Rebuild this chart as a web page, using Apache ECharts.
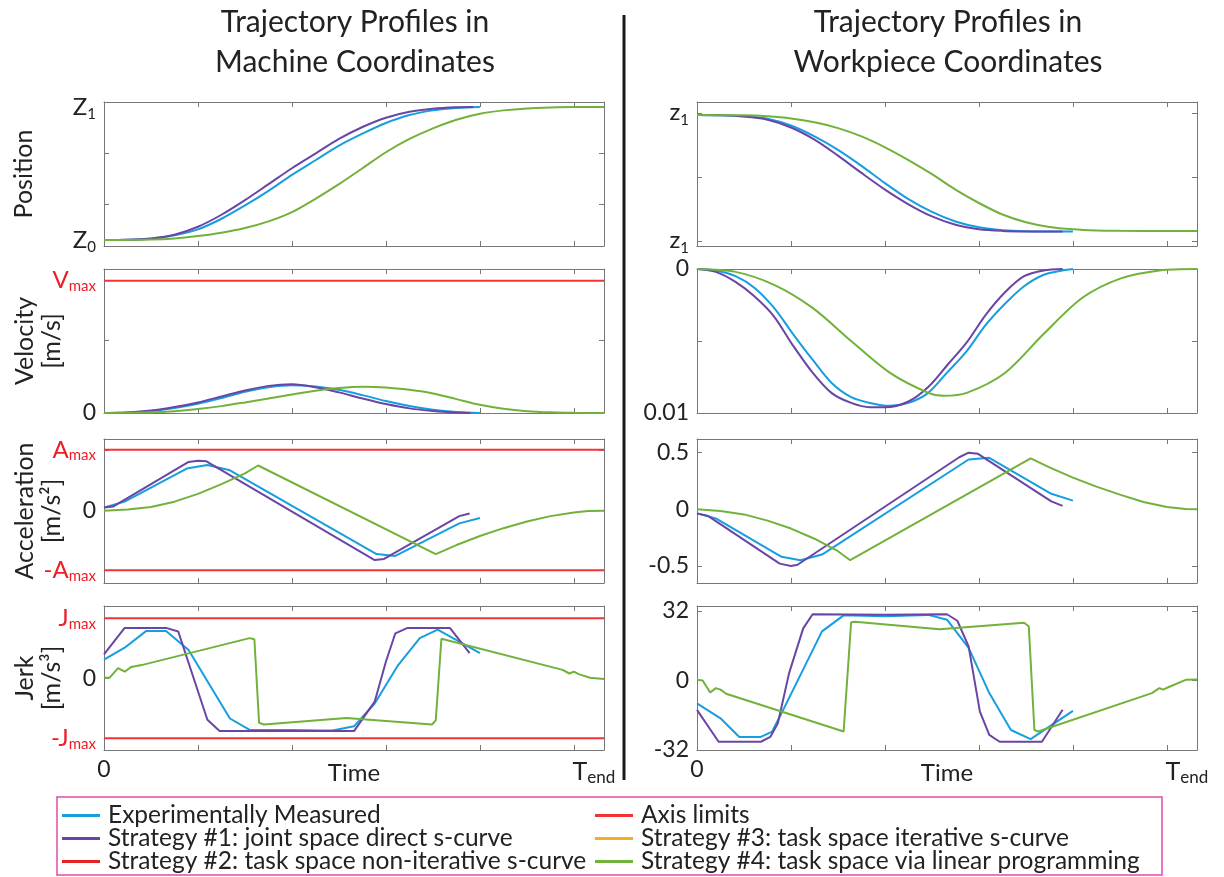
<!DOCTYPE html>
<html>
<head>
<meta charset="utf-8">
<script src="https://cdn.jsdelivr.net/npm/echarts@6/dist/echarts.min.js"></script>
<style>
  html, body { margin: 0; padding: 0; background: #fff; }
  #chart { width: 1224px; height: 877px; }
</style>
</head>
<body>
<div id="chart"></div>
<script>
// ---- time axis (one unit per tick, T_end at the 5th tick) ----
const T_MAX = 5.32;
const T_TICKS = [0, 1, 2, 3, 4, 5];
const T_LABEL_VALUES = [0, 5];

// ---- machine coordinates: position (Z0 = 0, Z1 = 1) ----
const machPosMeasured = [[0,0],[0.25,0.002],[0.5,0.01],[0.75,0.035],[1.0,0.08],[1.25,0.16],[1.5,0.26],[1.75,0.37],[2.0,0.49],[2.25,0.60],[2.5,0.71],[2.75,0.80],[3.0,0.88],[3.25,0.94],[3.5,0.975],[3.75,0.993],[4.0,1.0]];
const machPosS1 = [[0,0],[0.25,0.002],[0.5,0.012],[0.75,0.04],[1.0,0.10],[1.25,0.19],[1.5,0.30],[1.75,0.42],[2.0,0.54],[2.25,0.65],[2.5,0.76],[2.75,0.85],[3.0,0.92],[3.25,0.965],[3.5,0.988],[3.75,0.998],[3.93,1.0]];
const machPosS4 = [[0,0],[0.5,0.004],[0.75,0.012],[1.0,0.03],[1.25,0.055],[1.5,0.09],[1.75,0.14],[2.0,0.21],[2.25,0.31],[2.5,0.42],[2.75,0.54],[3.0,0.66],[3.25,0.76],[3.5,0.84],[3.75,0.905],[4.0,0.95],[4.25,0.975],[4.5,0.99],[4.75,0.997],[5.0,1.0],[5.32,1.0]];

// ---- machine coordinates: velocity (Vmax = 1) ----
const machVelMeasured = [[0,0],[0.25,0.003],[0.5,0.015],[0.75,0.038],[1.0,0.07],[1.25,0.113],[1.5,0.16],[1.75,0.195],[2.0,0.21],[2.25,0.2],[2.5,0.175],[2.75,0.135],[3.0,0.09],[3.25,0.053],[3.5,0.025],[3.75,0.008],[4.0,0]];
const machVelS1 = [[0,0],[0.25,0.004],[0.5,0.018],[0.75,0.045],[1.0,0.08],[1.25,0.125],[1.5,0.17],[1.75,0.205],[2.0,0.217],[2.25,0.195],[2.5,0.156],[2.75,0.11],[3.0,0.068],[3.25,0.035],[3.5,0.015],[3.75,0.003],[3.9,0]];
const machVelS4 = [[0,0],[0.5,0.005],[0.75,0.014],[1.0,0.03],[1.25,0.052],[1.5,0.08],[1.75,0.11],[2.0,0.14],[2.25,0.168],[2.5,0.188],[2.75,0.198],[3.0,0.193],[3.25,0.175],[3.5,0.148],[3.75,0.105],[4.0,0.062],[4.25,0.032],[4.5,0.014],[4.75,0.005],[5.0,0.001],[5.32,0]];

// ---- machine coordinates: acceleration (Amax = 1) ----
const machAccMeasured = [[0,0.044],[0.22,0.14],[0.88,0.69],[1.1,0.75],[1.34,0.66],[2.9,-0.73],[3.1,-0.76],[3.78,-0.22],[4.0,-0.13]];
const machAccS1 = [[0,0.044],[0.1,0.06],[0.9,0.80],[1.0,0.82],[1.09,0.81],[2.88,-0.83],[2.98,-0.81],[3.78,-0.1],[3.89,-0.056]];
const machAccS4 = [[0,-0.01],[0.25,0.01],[0.5,0.05],[0.75,0.14],[1.0,0.27],[1.25,0.43],[1.5,0.61],[1.64,0.74],[3.53,-0.73],[3.75,-0.58],[4.0,-0.43],[4.25,-0.3],[4.5,-0.19],[4.75,-0.1],[5.0,-0.04],[5.15,-0.015],[5.32,-0.01]];

// ---- machine coordinates: jerk (Jmax = 1) ----
const machJerkMeasured = [[0,0.31],[0.22,0.51],[0.45,0.79],[0.66,0.79],[0.9,0.47],[1.34,-0.67],[1.55,-0.86],[2.0,-0.86],[2.3,-0.87],[2.43,-0.87],[2.66,-0.8],[2.88,-0.42],[3.13,0.22],[3.36,0.67],[3.55,0.81],[4.0,0.42]];
const machJerkS1 = [[0,0.40],[0.22,0.84],[0.66,0.84],[0.79,0.78],[1.1,-0.69],[1.23,-0.88],[2.0,-0.88],[2.66,-0.88],[2.88,-0.39],[3.0,0.28],[3.1,0.75],[3.23,0.84],[3.68,0.84],[3.89,0.42]];
const machJerkS4 = [[0,0.01],[0.06,0.01],[0.15,0.17],[0.22,0.11],[0.29,0.19],[0.4,0.22],[1.55,0.67],[1.6,0.65],[1.65,-0.74],[1.7,-0.77],[2.58,-0.66],[3.49,-0.77],[3.53,-0.7],[3.59,0.66],[4.88,0.14],[4.95,0.08],[5.0,0.11],[5.05,0.07],[5.17,0.01],[5.32,-0.01]];

// ---- workpiece coordinates: position (normalised between the two z1 marks) ----
const workPosMeasured = [[0,0.982],[0.25,0.981],[0.5,0.973],[0.75,0.953],[1.0,0.90],[1.25,0.815],[1.5,0.71],[1.75,0.585],[2.0,0.45],[2.25,0.325],[2.5,0.225],[2.75,0.15],[3.0,0.105],[3.25,0.083],[3.5,0.075],[4.0,0.072]];
const workPosS1 = [[0,0.982],[0.25,0.98],[0.5,0.97],[0.75,0.945],[1.0,0.885],[1.25,0.79],[1.5,0.665],[1.75,0.53],[2.0,0.40],[2.25,0.285],[2.5,0.19],[2.75,0.125],[3.0,0.09],[3.25,0.077],[3.5,0.073],[3.89,0.072]];
const workPosS4 = [[0,0.982],[0.5,0.98],[0.75,0.972],[1.0,0.955],[1.25,0.925],[1.5,0.88],[1.75,0.815],[2.0,0.73],[2.25,0.63],[2.5,0.52],[2.75,0.40],[3.0,0.295],[3.25,0.205],[3.5,0.145],[3.75,0.108],[4.0,0.09],[4.25,0.081],[4.5,0.078],[5.0,0.076],[5.32,0.076]];

// ---- workpiece coordinates: velocity magnitude ----
const workVelMeasured = [[0,0],[0.2,0.0001],[0.41,0.0005],[0.61,0.0013],[0.82,0.0027],[1.02,0.0045],[1.23,0.0063],[1.43,0.0079],[1.64,0.0089],[1.84,0.0093],[2.05,0.0095],[2.25,0.0093],[2.46,0.0086],[2.66,0.0072],[2.87,0.0057],[3.07,0.0039],[3.28,0.0024],[3.48,0.0012],[3.69,0.0004],[3.89,0.0001],[4.0,0]];
const workVelS1 = [[0,0],[0.2,0.0002],[0.41,0.0009],[0.61,0.0019],[0.82,0.0033],[1.02,0.0053],[1.23,0.0072],[1.43,0.0086],[1.64,0.0093],[1.84,0.0096],[2.0,0.0096],[2.25,0.0092],[2.46,0.0082],[2.66,0.0067],[2.87,0.0051],[3.07,0.0032],[3.28,0.0016],[3.48,0.0005],[3.69,0.0001],[3.89,0]];
const workVelS4 = [[0,0],[0.41,0.0002],[0.82,0.0011],[1.23,0.0027],[1.64,0.005],[2.05,0.0072],[2.46,0.0086],[2.62,0.0088],[2.87,0.0086],[3.28,0.0072],[3.69,0.0045],[4.1,0.002],[4.51,0.00065],[4.92,0.0001],[5.32,0]];

// ---- workpiece coordinates: acceleration ----
const workAccMeasured = [[0,-0.036],[0.2,-0.08],[0.9,-0.42],[1.1,-0.45],[1.33,-0.4],[2.89,0.44],[3.11,0.455],[3.77,0.137],[4.0,0.077]];
const workAccS1 = [[0,-0.036],[0.12,-0.06],[0.88,-0.48],[1.0,-0.5],[1.07,-0.49],[2.79,0.46],[2.89,0.5],[2.99,0.49],[3.77,0.07],[3.89,0.03]];
const workAccS4 = [[0,0],[0.25,-0.015],[0.5,-0.045],[0.75,-0.1],[1.0,-0.17],[1.25,-0.26],[1.5,-0.37],[1.63,-0.45],[3.55,0.45],[3.75,0.37],[4.0,0.28],[4.25,0.2],[4.5,0.13],[4.75,0.065],[5.0,0.02],[5.2,0.003],[5.32,0]];

// ---- workpiece coordinates: jerk ----
const workJerkMeasured = [[0,-10.5],[0.25,-17.4],[0.45,-26],[0.68,-26],[0.8,-23.5],[0.9,-15],[1.33,22.6],[1.56,30],[2.0,29.6],[2.46,30.2],[2.66,28],[2.89,15],[3.11,-5.8],[3.34,-22.8],[3.55,-27],[4.0,-14]];
const workJerkS1 = [[0,-13.5],[0.23,-28.2],[0.68,-28.2],[0.78,-26],[0.86,-19.7],[0.98,3.4],[1.13,24],[1.23,30.5],[2.0,30.3],[2.66,30.5],[2.77,27.5],[2.89,15.7],[3.01,-14.3],[3.11,-25],[3.22,-28.2],[3.67,-28.2],[3.89,-13.5]];
const workJerkS4 = [[0,0.3],[0.06,0],[0.14,-5.5],[0.2,-3.5],[0.25,-4.2],[0.31,-6.1],[1.56,-23.5],[1.64,26.8],[1.68,27],[2.58,23.6],[3.48,26.6],[3.53,25],[3.59,-22.8],[3.63,-23.5],[4.84,-5.8],[4.92,-3.5],[4.96,-4.2],[5.02,-3],[5.2,0.3],[5.32,0.5]];

// ---- axis limits (normalised) ----
const V_MAX = 1, A_MAX = 1, J_MAX = 1;

// ---- y axis ticks and labelled values ----
const machPosTicks = [0.268, 0.656], machPosLabels = [0, 1];
const machVelTicks = [0.546], machVelLabels = [0, V_MAX];
const machAccTicks = [-A_MAX, 0, A_MAX], machAccLabels = [-A_MAX, 0, A_MAX];
const machJerkTicks = [-J_MAX, 0, J_MAX], machJerkLabels = [-J_MAX, 0, J_MAX];
const workPosTicks = [0, 0.5, 1], workPosLabels = [0, 1];
const workVelTicks = [0, 0.005, 0.01], workVelLabels = [0, 0.01];
const workAccTicks = [-0.5, 0, 0.5], workAccLabels = [-0.5, 0, 0.5];
const workJerkTicks = [-32, 0, 32], workJerkLabels = [-32, 0, 32];

// ---- legend ----
const NAME_MEAS = 'Experimentally Measured';
const NAME_S1 = 'Strategy #1: joint space direct s-curve';
const NAME_S2 = 'Strategy #2: task space non-iterative s-curve';
const NAME_S3 = 'Strategy #3: task space iterative s-curve';
const NAME_S4 = 'Strategy #4: task space via linear programming';
const NAME_LIM = 'Axis limits';

// ---- styling ----
const FONT = 'Lato, "Open Sans", sans-serif';
const TXT = '#222222';
const RED_TXT = '#ee1c24';
const FRAME = '#777777';
const C_MEAS = '#169ee0';
const C_S1 = '#6a45a5';
const C_S2 = '#e8231f';
const C_S3 = '#eeb021';
const C_S4 = '#72b13a';
const C_LIM = '#f43434';

const LEFT_X = 104, RIGHT_X = 697, GRID_W = 500, GRID_H = 144;
const ROW_TOPS = [102, 269, 439, 606];

const RICH = {
  m: { fontSize: 24, color: TXT, lineHeight: 30, fontFamily: FONT },
  s: { fontSize: 15, color: TXT, verticalAlign: 'bottom', fontFamily: FONT },
  n: { fontSize: 23, color: TXT, fontFamily: FONT },
  rm: { fontSize: 24, color: RED_TXT, lineHeight: 26, fontFamily: FONT },
  rs: { fontSize: 15, color: RED_TXT, verticalAlign: 'bottom', fontFamily: FONT },
  p: { width: 40, fontSize: 23, fontFamily: FONT },
  t: { fontSize: 25, color: TXT, lineHeight: 28, fontFamily: FONT },
  e: { fontSize: 17, color: TXT, verticalAlign: 'bottom', fontFamily: FONT }
};

const numFmt = v => '{n|' + String(v) + '}';
const limFmt = letter => v => v === 0 ? '{n|0}' : (v > 0 ? '{rm|' + letter + '}{rs|max}' : '{rm|-' + letter + '}{rs|max}');

// one entry per panel: column 0 = machine, column 1 = workpiece
const PANELS = [
  { col: 0, row: 0, min: -0.045, max: 1.038, ticks: machPosTicks, labels: machPosLabels,
    fmt: v => v === 0 ? '{m|Z}{s|0}' : '{m|Z}{s|1}', name: 'Position', gap: 67 },
  { col: 0, row: 1, min: 0, max: 1.088, ticks: machVelTicks, labels: machVelLabels,
    fmt: limFmt('V'), name: 'Velocity\n[m/s]', gap: 39 },
  { col: 0, row: 2, min: -1.21, max: 1.18, ticks: machAccTicks, labels: machAccLabels,
    fmt: limFmt('A'), name: 'Acceleration\n[m/s²]', gap: 39 },
  { col: 0, row: 3, min: -1.195, max: 1.205, ticks: machJerkTicks, labels: machJerkLabels,
    fmt: limFmt('J'), name: 'Jerk\n[m/s³]', gap: 39 },
  { col: 1, row: 0, min: -0.041, max: 1.084, ticks: workPosTicks, labels: workPosLabels,
    fmt: () => '{m|z}{s|1}' },
  { col: 1, row: 1, min: 0, max: 0.01, inverse: true, ticks: workVelTicks, labels: workVelLabels, fmt: numFmt },
  { col: 1, row: 2, min: -0.651, max: 0.621, ticks: workAccTicks, labels: workAccLabels, fmt: numFmt },
  { col: 1, row: 3, min: -32, max: 34.3, ticks: workJerkTicks, labels: workJerkLabels, fmt: numFmt }
];

const grid = [], xAxis = [], yAxis = [];
PANELS.forEach((p, i) => {
  grid.push({ left: p.col === 0 ? LEFT_X : RIGHT_X, top: ROW_TOPS[p.row], width: GRID_W, height: GRID_H });
  const frameLine = { show: true, onZero: false, lineStyle: { color: FRAME, width: 1 } };
  const bottomRow = p.row === 3;
  // bottom time axis
  xAxis.push({
    type: 'value', gridIndex: i, min: 0, max: T_MAX, position: 'bottom',
    axisLine: frameLine, splitLine: { show: false },
    axisTick: { inside: true, length: 5, customValues: T_TICKS, lineStyle: { color: FRAME } },
    axisLabel: {
      show: bottomRow, customValues: T_LABEL_VALUES, margin: 8, rich: RICH,
      formatter: v => v === 0 ? '{n|0}' : (v === 5 ? '{p| }{t|T}{e|end}' : '')
    },
    name: bottomRow ? 'Time' : '', nameLocation: 'middle', nameGap: 11, nameMoveOverlap: false,
    nameTextStyle: { fontSize: 24, color: TXT, fontFamily: FONT }
  });
  // mirrored time axis along the top edge
  xAxis.push({
    type: 'value', gridIndex: i, min: 0, max: T_MAX, position: 'top',
    axisLine: frameLine, splitLine: { show: false },
    axisTick: { inside: true, length: 5, customValues: T_TICKS, lineStyle: { color: FRAME } },
    axisLabel: { show: false }
  });
  // left value axis
  yAxis.push({
    type: 'value', gridIndex: i, min: p.min, max: p.max, inverse: !!p.inverse, position: 'left',
    axisLine: frameLine, splitLine: { show: false },
    axisTick: { inside: true, length: 5, customValues: p.ticks, lineStyle: { color: FRAME } },
    axisLabel: { customValues: p.labels, margin: 8, rich: RICH, formatter: p.fmt },
    name: p.name || '', nameLocation: 'middle', nameGap: p.gap || 0, nameRotate: 90, nameMoveOverlap: false,
    nameTextStyle: { fontSize: 25, lineHeight: 27, color: TXT, fontFamily: FONT }
  });
  // mirrored value axis along the right edge
  yAxis.push({
    type: 'value', gridIndex: i, min: p.min, max: p.max, inverse: !!p.inverse, position: 'right',
    axisLine: frameLine, splitLine: { show: false },
    axisTick: { inside: true, length: 5, customValues: p.ticks, lineStyle: { color: FRAME } },
    axisLabel: { show: false }
  });
});

const series = [];
function addLine(name, panel, data, color, smooth) {
  series.push({
    type: 'line', name, xAxisIndex: 2 * panel, yAxisIndex: 2 * panel, data,
    symbol: 'none', showSymbol: false, smooth: smooth ? 0.3 : false,
    lineStyle: { color, width: 2 }, itemStyle: { color }, silent: true
  });
}
function hLine(panel, level) {
  addLine(NAME_LIM, panel, [[0, level], [T_MAX, level]], C_LIM, false);
}

// axis limit lines (machine coordinates)
hLine(1, V_MAX);
hLine(2, A_MAX); hLine(2, -A_MAX);
hLine(3, J_MAX); hLine(3, -J_MAX);

const curves = [
  [0, machPosMeasured, machPosS1, machPosS4, true],
  [1, machVelMeasured, machVelS1, machVelS4, true],
  [2, machAccMeasured, machAccS1, machAccS4, false],
  [3, machJerkMeasured, machJerkS1, machJerkS4, false],
  [4, workPosMeasured, workPosS1, workPosS4, true],
  [5, workVelMeasured, workVelS1, workVelS4, true],
  [6, workAccMeasured, workAccS1, workAccS4, false],
  [7, workJerkMeasured, workJerkS1, workJerkS4, false]
];
curves.forEach(([panel, meas, s1, s4, smooth]) => {
  addLine(NAME_MEAS, panel, meas, C_MEAS, smooth);
  addLine(NAME_S1, panel, s1, C_S1, smooth);
  addLine(NAME_S4, panel, s4, C_S4, smooth);
});
// strategies without traces in these panels still appear in the legend
addLine(NAME_S2, 0, [], C_S2, false);
addLine(NAME_S3, 0, [], C_S3, false);

const legendBase = {
  orient: 'vertical', top: 803, itemGap: -2, itemWidth: 38, itemHeight: 3, icon: 'rect',
  padding: 0, selectedMode: false,
  textStyle: { fontSize: 24.5, lineHeight: 21, color: TXT, fontFamily: FONT, padding: [0, 0, 0, 3] }
};

const option = {
  animation: false,
  backgroundColor: '#ffffff',
  grid, xAxis, yAxis, series,
  legend: [
    Object.assign({}, legendBase, { left: 62, data: [NAME_MEAS, NAME_S1, NAME_S2] }),
    Object.assign({}, legendBase, { left: 595, data: [NAME_LIM, NAME_S3, NAME_S4] })
  ],
  graphic: [
    { type: 'text', x: 355, y: 2, style: { text: 'Trajectory Profiles in\nMachine Coordinates', align: 'center',
      fontSize: 30, lineHeight: 40, fontFamily: FONT, fill: TXT } },
    { type: 'text', x: 948, y: 2, style: { text: 'Trajectory Profiles in\nWorkpiece Coordinates', align: 'center',
      fontSize: 30, lineHeight: 40, fontFamily: FONT, fill: TXT } },
    { type: 'line', shape: { x1: 624, y1: 15, x2: 624, y2: 780 }, style: { stroke: '#1a1a1a', lineWidth: 3 } },
    { type: 'rect', shape: { x: 57, y: 797, width: 1105, height: 78 }, style: { fill: 'none', stroke: '#e34aa8', lineWidth: 1.5 } }
  ]
};

const chart = echarts.init(document.getElementById('chart'), null, { renderer: 'canvas' });
chart.setOption(option);
</script>
</body>
</html>
